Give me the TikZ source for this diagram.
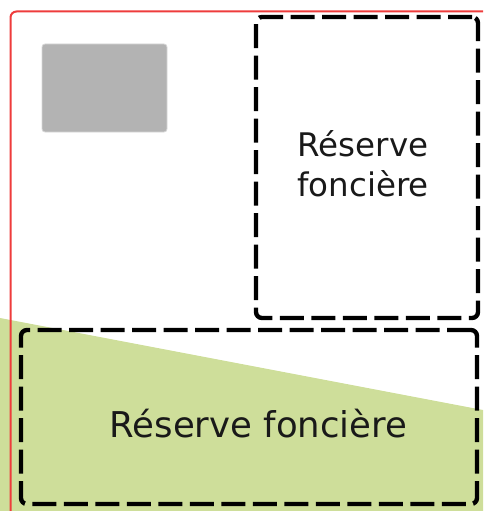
\documentclass[tikz,border=0pt]{standalone}
\usepackage{fontspec}
\setmainfont{DejaVu Sans}
\definecolor{landgreen}{RGB}{206,222,154}
\definecolor{framered}{RGB}{238,60,60}
\definecolor{blockgrey}{RGB}{179,179,179}
\definecolor{blockedge}{RGB}{215,215,215}
\tikzset{
  dbox/.style={draw=black, line width=4.4pt, dash pattern=on 24pt off 7.5pt, rounded corners=6pt},
  lbl/.style={anchor=base, inner sep=0pt, text=black!90},
}
\begin{document}
\begin{tikzpicture}[x=1pt,y=-1pt]
\useasboundingbox (0,0) rectangle (483,511);
\clip (0,0) rectangle (483,511);
% green land area
\fill[landgreen] (0,318) -- (483,410) -- (483,511) -- (0,511) -- cycle;
% red frame
\draw[framered, line width=2pt, rounded corners=6pt] (10.5,530) -- (10.5,11.5) -- (500,11.5);
% grey block
\node[draw=blockedge, fill=blockgrey, line width=0.8pt, rounded corners=3pt, minimum width=125pt, minimum height=88pt, inner sep=0pt] (blk) at (104.5,88) {};
% dashed boxes
\node[dbox, minimum width=222pt, minimum height=301pt, inner sep=0pt] (top) at (367,167.5) {};
\node[dbox, minimum width=456pt, minimum height=174pt, inner sep=0pt] (bot) at (249,417) {};
% labels
\node[lbl, font=\fontsize{32.5}{40}\selectfont] (t1) at (363,156) {Réserve};
\node[lbl, font=\fontsize{32.5}{40}\selectfont] (t2) at (363,196) {foncière};
\node[lbl, font=\fontsize{35.5}{42}\selectfont] (t3) at (258.5,437) {Réserve foncière};
\end{tikzpicture}
\end{document}
